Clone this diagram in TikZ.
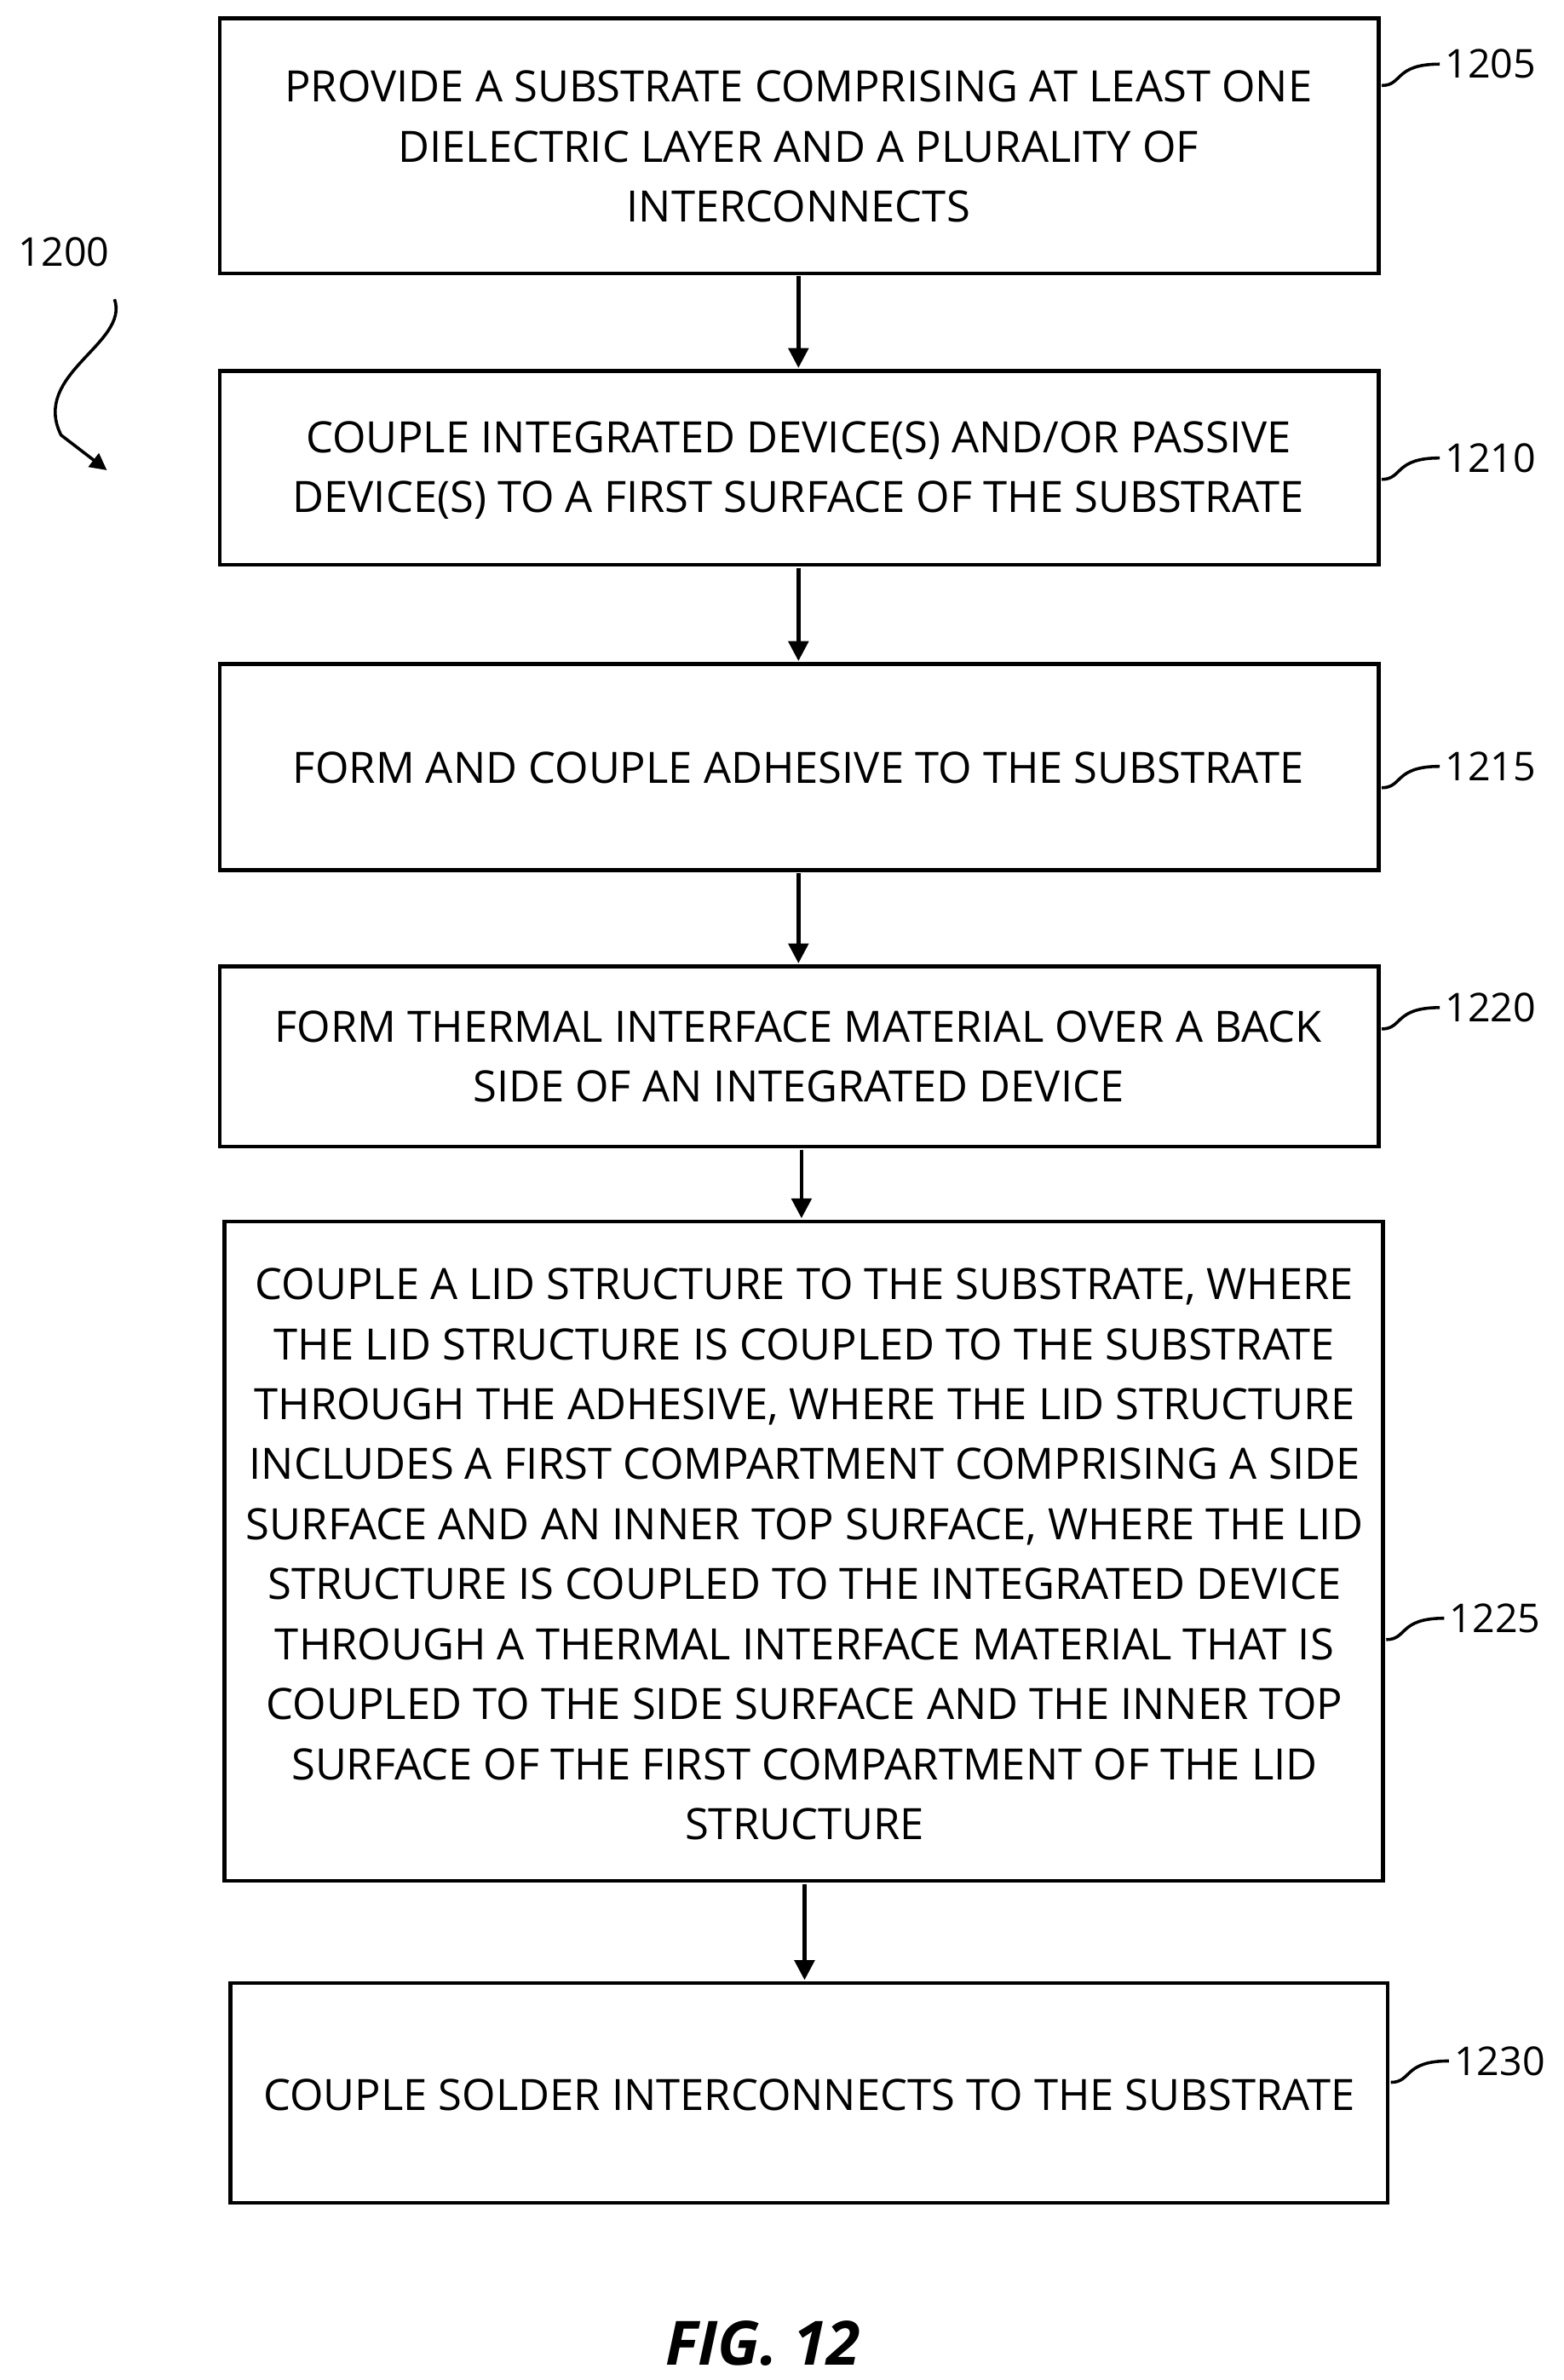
\documentclass[tikz,border=0pt]{standalone}
\usepackage{fontspec}
\setmainfont{Open Sans}
\usetikzlibrary{arrows.meta}
\begin{document}
\begin{tikzpicture}[x=1pt,y=-1pt,
 box/.style={draw,line width=2.5pt,inner sep=0pt},
 txt/.style={align=center,font=\fontsize{28.3}{39.3}\selectfont},
 arr/.style={line width=2.5pt,-{Triangle[length=13pt,width=13pt]}},
 lead/.style={line width=2pt},
 lbl/.style={font=\fontsize{26}{28}\selectfont,anchor=west}]
\useasboundingbox (0,0) rectangle (1024,1559);
\draw[box] (144,12) rectangle (903,179) coordinate (b1e);
\node[txt] (t1) at (523,96) {PROVIDE A SUBSTRATE COMPRISING AT LEAST ONE\\DIELECTRIC LAYER AND A PLURALITY OF\\INTERCONNECTS};
\draw[box] (144,243) rectangle (903,370);
\node[txt] (t2) at (523,308) {COUPLE INTEGRATED DEVICE(S) AND/OR PASSIVE\\DEVICE(S) TO A FIRST SURFACE OF THE SUBSTRATE};
\draw[box] (144,435) rectangle (903,570);
\node[txt] (t3) at (523,503) {FORM AND COUPLE ADHESIVE TO THE SUBSTRATE};
\draw[box] (144,633) rectangle (903,751);
\node[txt] (t4) at (523,692) {FORM THERMAL INTERFACE MATERIAL OVER A BACK\\SIDE OF AN INTEGRATED DEVICE};
\draw[box] (147,800) rectangle (906,1232);
\node[txt] (t5) at (527,1018) {COUPLE A LID STRUCTURE TO THE SUBSTRATE, WHERE\\THE LID STRUCTURE IS COUPLED TO THE SUBSTRATE\\THROUGH THE ADHESIVE, WHERE THE LID STRUCTURE\\INCLUDES A FIRST COMPARTMENT COMPRISING A SIDE\\SURFACE AND AN INNER TOP SURFACE, WHERE THE LID\\STRUCTURE IS COUPLED TO THE INTEGRATED DEVICE\\THROUGH A THERMAL INTERFACE MATERIAL THAT IS\\COUPLED TO THE SIDE SURFACE AND THE INNER TOP\\SURFACE OF THE FIRST COMPARTMENT OF THE LID\\STRUCTURE};
\draw[box] (151,1299) rectangle (909,1443);
\node[txt] (t6) at (530,1372) {COUPLE SOLDER INTERCONNECTS TO THE SUBSTRATE};
\coordinate (a1) at (523,181); \coordinate (a2) at (523,241);
\draw[arr] (a1) -- (a2);
\coordinate (a3) at (523,372); \coordinate (a4) at (523,433);
\draw[arr] (a3) -- (a4);
\coordinate (a5) at (523,572); \coordinate (a6) at (523,631);
\draw[arr] (a5) -- (a6);
\coordinate (a7) at (525,753); \coordinate (a8) at (525,798);
\draw[arr] (a7) -- (a8);
\coordinate (a9) at (527,1234); \coordinate (a10) at (527,1297);
\draw[arr] (a9) -- (a10);
\foreach \n/\y/\x in {1205/42/905,1210/300/905,1215/502/905,1220/660/905,1225/1060/908,1230/1350/911}{
 \node[lbl] (l\n) at (\x+38,\y) {\n};
 \draw[lead] (\x,\y+14) .. controls (\x+14,\y+14) and (\x+8,\y) .. (l\n.west);
}
\node[font=\fontsize{26}{28}\selectfont] (l1200) at (42,165) {1200};
\coordinate (c1) at (75,196); \coordinate (c2) at (70,308);
\draw[line width=2pt,-{Triangle[length=11pt,width=11pt]}] (c1) .. controls (85,225) and (20,245) .. (40,285) -- (c2);
\node[font=\fontsize{40}{44}\selectfont\bfseries\itshape] (fig) at (500,1535) {FIG. 12};
\end{tikzpicture}
\end{document}
